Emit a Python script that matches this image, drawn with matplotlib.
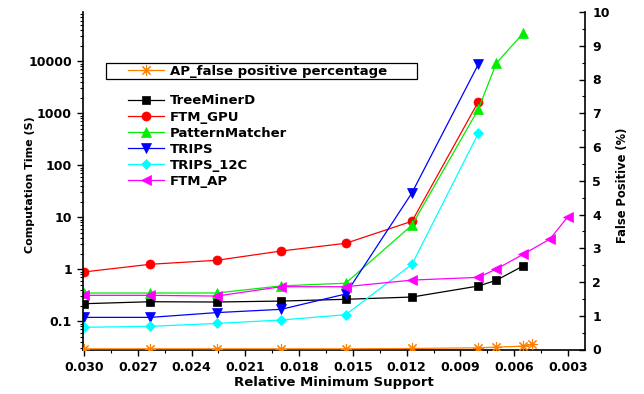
import matplotlib
matplotlib.use("Agg")
import matplotlib.pyplot as plt
from matplotlib.patches import Rectangle
from matplotlib.ticker import FixedLocator, FuncFormatter, MultipleLocator, LogLocator, NullFormatter

plt.rcParams['font.family'] = ['DejaVu Sans']
plt.rcParams['font.weight'] = 'bold'

support = [0.0300, 0.0263, 0.0226, 0.0190, 0.0154, 0.0117, 0.0080, 0.0070, 0.0055, 0.0050, 0.0040, 0.0030]

treeminerd = [0.218, 0.238, 0.235, 0.245, 0.265, 0.293, 0.477, 0.614, 1.16]
ftm_gpu = [0.89, 1.25, 1.49, 2.25, 3.16, 8.4, 1670]
patternmatcher = [0.35, 0.35, 0.35, 0.48, 0.54, 7.1, 1195, 9150, 34500]
trips = [0.119, 0.119, 0.147, 0.17, 0.335, 29.7, 8770]
trips_12c = [0.0767, 0.080, 0.091, 0.106, 0.134, 1.25, 412]
ftm_ap = [0.316, 0.316, 0.306, 0.463, 0.463, 0.62, 0.70, 1.01, 1.94, None, 3.83, 10.3]
ap_false_positive = [0.02, 0.02, 0.02, 0.02, 0.02, 0.03, 0.05, 0.07, 0.10, 0.15]

W, H = 644, 394
AX_L, AX_R, AX_T, AX_B = 83, 585.5, 12, 349.5
fig = plt.figure(figsize=(W / 100, H / 100), dpi=100)
ax = fig.add_axes([AX_L / W, 1 - AX_B / H, (AX_R - AX_L) / W, (AX_B - AX_T) / H])

series = [
    ("TreeMinerD", treeminerd, "#000000", "s", 6),
    ("FTM_GPU", ftm_gpu, "#ff0000", "o", 6.5),
    ("PatternMatcher", patternmatcher, "#00ee00", "^", 7),
    ("TRIPS", trips, "#0000ff", "v", 7),
    ("TRIPS_12C", trips_12c, "#00ffff", "D", 5.5),
    ("FTM_AP", ftm_ap, "#ff00ff", "<", 7),
]
for name, vals, col, mk, ms in series:
    xs = [support[i] for i, v in enumerate(vals) if v is not None]
    ys = [v for v in vals if v is not None]
    ax.plot(xs, ys, color=col, marker=mk, markersize=ms, linewidth=0.9,
            markeredgewidth=0.5, label=name)

ax.set_yscale('log')
ax.set_ylim(0.0287, 88700)
ax.set_xlim(0.03006, 0.00202)

ax.xaxis.set_major_locator(FixedLocator([0.030, 0.027, 0.024, 0.021, 0.018, 0.015, 0.012, 0.009, 0.006, 0.003]))
ax.xaxis.set_major_formatter(FuncFormatter(lambda v, p: f"{v:.3f}"))
ax.xaxis.set_minor_locator(FixedLocator([0.0285, 0.0255, 0.0225, 0.0195, 0.0165, 0.0135, 0.0105, 0.0075, 0.0045]))

ax.yaxis.set_major_locator(FixedLocator([0.1, 1, 10, 100, 1000, 10000]))
ax.yaxis.set_major_formatter(FuncFormatter(lambda v, p: f"{v:g}" if v < 1 else f"{int(round(v))}"))
ax.yaxis.set_minor_locator(LogLocator(base=10, subs=range(2, 10), numticks=20))
ax.yaxis.set_minor_formatter(NullFormatter())

ax.spines['top'].set_visible(False)
ax.spines['right'].set_visible(False)
for s in ['left', 'bottom']:
    ax.spines[s].set_linewidth(1.2)

ax.tick_params(axis='both', which='major', labelsize=9, length=4.5, width=1)
ax.tick_params(axis='both', which='minor', length=2.5, width=0.8)

ax.set_xlabel("Relative Minimum Support", fontsize=9.5, fontweight='bold', labelpad=2)
ax.set_ylabel("Computation Time (S)", fontsize=8, fontweight='bold')
ax.yaxis.set_label_coords((35 - AX_L) / (AX_R - AX_L), (AX_B - 185) / (AX_B - AX_T))

ax2 = ax.twinx()
ax2.set_position(ax.get_position())
ax2.plot(support[:len(ap_false_positive)], ap_false_positive, color="#ff8000",
         marker=(8, 2, 0), markersize=8, linewidth=0.9, markeredgewidth=0.8,
         label="AP_false positive percentage")
ax2.set_ylim(0, 10)
ax2.yaxis.set_major_locator(MultipleLocator(1))
ax2.yaxis.set_minor_locator(MultipleLocator(0.5))
ax2.spines['top'].set_visible(False)
ax2.spines['left'].set_visible(False)
ax2.spines['bottom'].set_visible(False)
ax2.spines['right'].set_linewidth(1.2)
ax2.tick_params(axis='y', which='major', direction='in', labelsize=9, length=4.5, width=1, pad=5)
ax2.tick_params(axis='y', which='minor', direction='in', length=2.5, width=0.8)
ax2.set_ylabel("False Positive (%)", fontsize=8.3, fontweight='bold')
ax2.yaxis.set_label_coords((616 - AX_L) / (AX_R - AX_L), (AX_B - 185.5) / (AX_B - AX_T))

fig.patches.append(Rectangle((106 / W, 1 - 79 / H), 311 / W, 16 / H, transform=fig.transFigure,
                             fill=False, edgecolor='black', linewidth=0.9))

leg1 = ax2.legend(loc='center left', bbox_to_anchor=(128 / W, 1 - 71 / H),
                  bbox_transform=fig.transFigure, frameon=False, fontsize=9.5,
                  handlelength=2.7, borderpad=0, borderaxespad=0, handletextpad=0.5)

handles, labels = ax.get_legend_handles_labels()
leg2 = ax2.legend(handles, labels, loc='upper left',
                  bbox_to_anchor=(128 / W, 1 - 94.5 / H), bbox_transform=fig.transFigure,
                  frameon=False, fontsize=9.5, handlelength=2.7, labelspacing=0.23,
                  borderpad=0, borderaxespad=0, handletextpad=0.5)
ax2.add_artist(leg1)

fig.savefig("out.png", dpi=100)
